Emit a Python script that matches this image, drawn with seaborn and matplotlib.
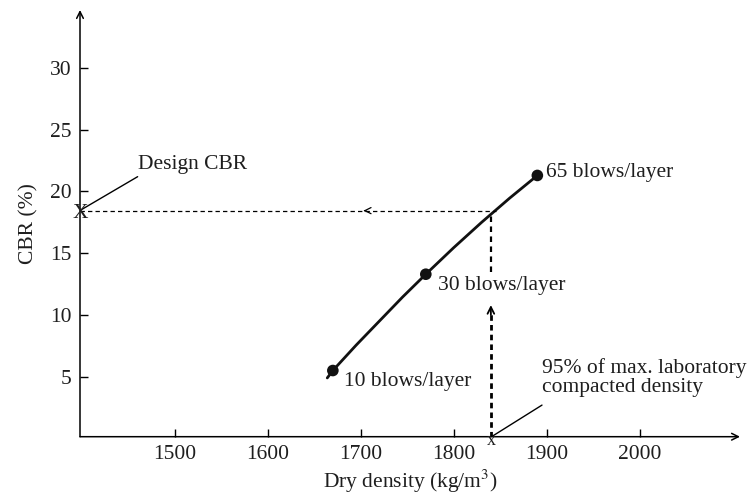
import numpy as np
import pandas as pd
import matplotlib
matplotlib.use("Agg")
import matplotlib.pyplot as plt
import seaborn as sns

# ---- data ----
point_density = [1670, 1770, 1890]
point_cbr = [5.5, 13.3, 21.3]
point_labels = ["10 blows/layer", "30 blows/layer", "65 blows/layer"]

curve_density = [1664, 1670, 1695, 1720, 1745, 1770, 1800, 1830, 1860, 1890]
curve_cbr = [4.9, 5.5, 7.55, 9.5, 11.45, 13.3, 15.45, 17.5, 19.45, 21.3]

design_cbr = 18.45
target_density = 1840

x_ticks = [1500, 1600, 1700, 1800, 1900, 2000]
y_ticks = [5, 10, 15, 20, 25, 30]

FS = 15.5
TXT = "#1e1e1e"

sns.set_theme(style="white")
plt.rcParams["font.family"] = ["Liberation Serif", "DejaVu Serif"]
plt.rcParams["mathtext.fontset"] = "stix"

fig = plt.figure(figsize=(7.5, 4.94), dpi=100)
ax = fig.add_axes([80 / 750, (494 - 436.7) / 494, 660 / 750, (436.7 - 10) / 494])
ax.set_xlim(1398, 2108)
ax.set_ylim(0.14, 34.7)

for s in ax.spines.values():
    s.set_visible(False)

# axes with arrows
ax.annotate("", xy=(1.0, 0), xytext=(0, 0), xycoords="axes fraction",
            arrowprops=dict(arrowstyle="->", color="black", lw=1.1,
                            shrinkA=0, shrinkB=0, mutation_scale=12))
ax.annotate("", xy=(0, 1.0), xytext=(0, 0), xycoords="axes fraction",
            arrowprops=dict(arrowstyle="->", color="black", lw=1.1,
                            shrinkA=0, shrinkB=0, mutation_scale=12))

ax.set_xticks(x_ticks)
ax.set_yticks(y_ticks)
ax.tick_params(axis="both", direction="in", length=6, width=1, color="black",
               labelsize=FS, labelcolor=TXT, pad=6,
               bottom=True, left=True)

# curve and points
curve_df = pd.DataFrame({"density": curve_density, "cbr": curve_cbr})
sns.lineplot(data=curve_df, x="density", y="cbr", ax=ax, color="#111111",
             lw=2.0, sort=False, estimator=None)
pts_df = pd.DataFrame({"density": point_density, "cbr": point_cbr})
sns.scatterplot(data=pts_df, x="density", y="cbr", ax=ax, color="#111111",
                s=70, edgecolor="none", zorder=5)

label_offsets = [(8, -8), (9, -8), (6, 2)]
for xd, yd, lab, off in zip(point_density, point_cbr, point_labels, label_offsets):
    ax.annotate(lab, xy=(xd, yd), xytext=off, textcoords="offset points",
                fontsize=FS, color=TXT, va="center", ha="left")

# horizontal dashed line to design CBR with arrow
ax.plot([1398, target_density + 5], [design_cbr, design_cbr], ls=(0, (3.5, 2.5)),
        color="black", lw=0.9)
ax.annotate("", xy=(1703, design_cbr), xytext=(1705, design_cbr),
            arrowprops=dict(arrowstyle="->", color="black", lw=0.9,
                            shrinkA=0, shrinkB=0, mutation_scale=11))

# vertical dashed lines
ax.plot([target_density, target_density], [13.5, 18.1], ls=(0, (2.5, 2)),
        color="black", lw=1.6)
ax.plot([target_density, target_density], [0.14, 10.3], ls=(0, (2.0, 1.5)),
        color="black", lw=2.0)
ax.annotate("", xy=(target_density, 10.8), xytext=(target_density, 10.0),
            arrowprops=dict(arrowstyle="->", color="black", lw=1.3,
                            shrinkA=0, shrinkB=0, mutation_scale=12))

# X marks
ax.text(1398, design_cbr - 0.2, "X", fontsize=FS, ha="center", va="center",
        color=TXT)
ax.text(target_density, -0.2, "x", fontsize=13, ha="center", va="center",
        color=TXT)

# annotations
ax.plot([1400, 1460], [18.55, 21.2], color="black", lw=1.0)
ax.text(1460, 22.2, "Design CBR", fontsize=FS, ha="left", va="center",
        color=TXT)
ax.plot([target_density + 2, 1895], [0.2, 2.7], color="black", lw=1.0)
ax.text(1895, 4.95, "95% of max. laboratory\ncompacted density", fontsize=FS,
        ha="left", va="center", color=TXT, linespacing=0.98)

ax.set_xlabel("Dry density (kg/m$^3$)", fontsize=FS, color=TXT, labelpad=3)
ax.set_ylabel("CBR (%)", fontsize=FS, color=TXT, labelpad=8)

fig.savefig("out.png", dpi=100)
